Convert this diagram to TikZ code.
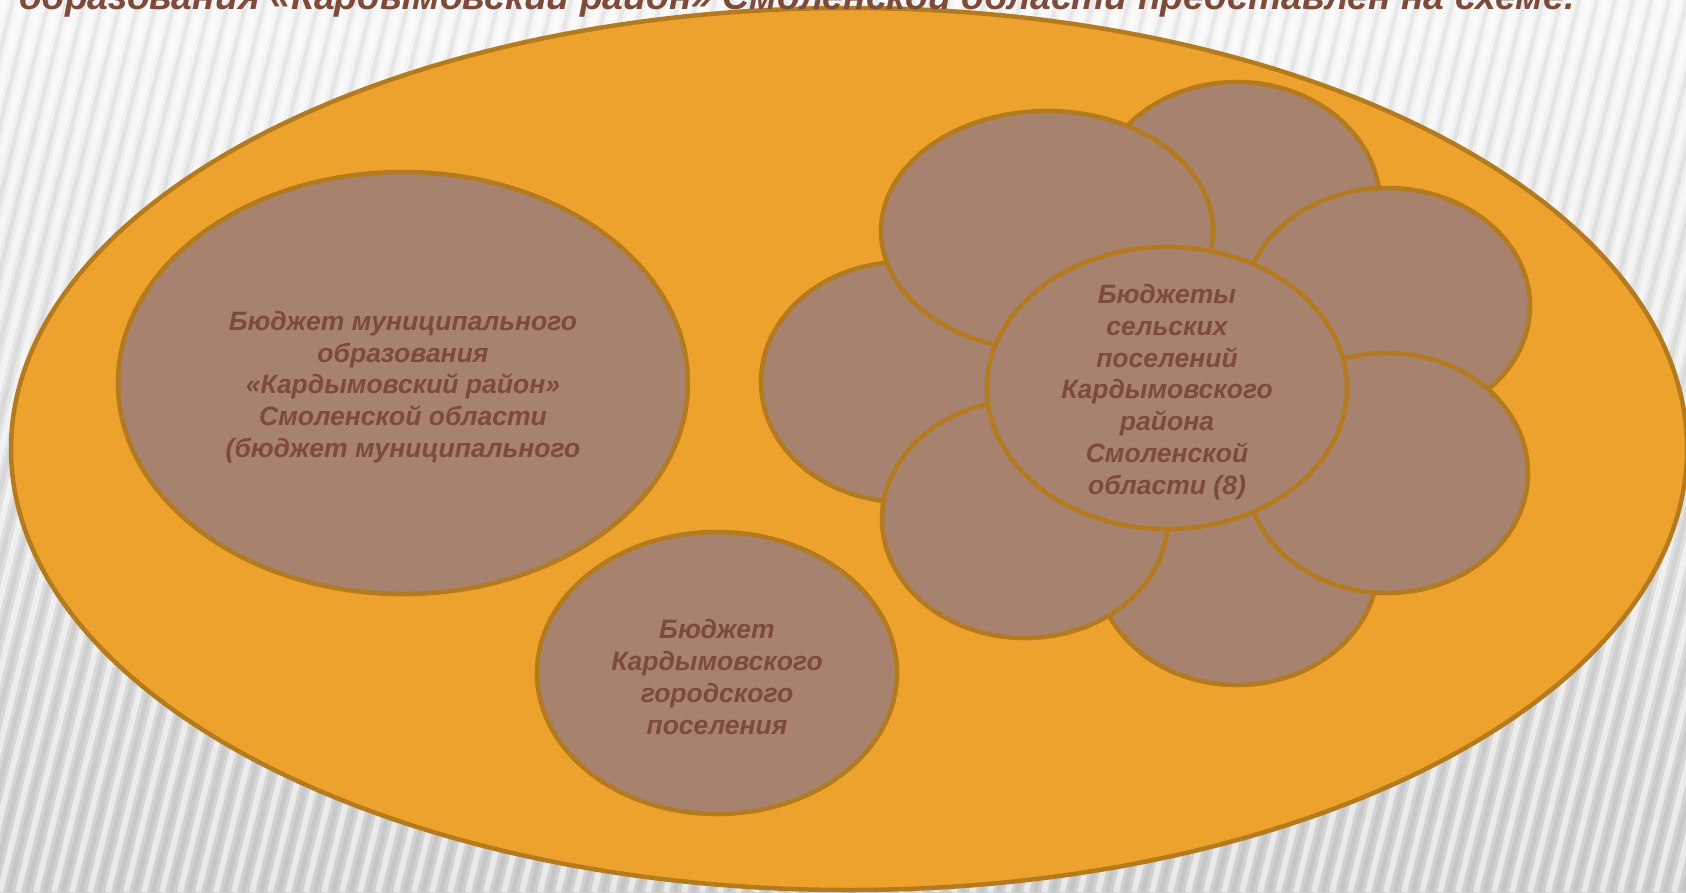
\documentclass[tikz,border=0pt]{standalone}
\usepackage{fontspec}
\setmainfont{Liberation Sans}
\usetikzlibrary{shapes.geometric}
\definecolor{bigfill}{HTML}{EEA22E}
\definecolor{petalfill}{HTML}{A6826F}
\definecolor{rim}{HTML}{B47A1E}
\definecolor{ink}{HTML}{7E4A3A}
\definecolor{bgtop}{HTML}{F6F6F6}
\definecolor{bgbot}{HTML}{D0D0D0}
\begin{document}
\begin{tikzpicture}[x=1pt,y=1pt,
  oval/.style={ellipse, draw=rim, line width=4.5pt, fill=petalfill, inner sep=0pt},
  txt/.style={text=ink, align=center, inner sep=0pt, font=\fontsize{26.5}{31.8}\selectfont\bfseries\itshape},
  intxt/.style={txt, yshift=-4pt},
  stripe/.style={white, opacity=0.55, line width=6pt},
  shadowstripe/.style={black, opacity=0.05, line width=4.5pt}
]
\path[use as bounding box, clip] (0,0) rectangle (1686,-892);
\shade[top color=bgtop, bottom color=bgbot] (0,0) rectangle (1686,-892);
\foreach \i in {-20,...,100} {
  \draw[stripe] (\i*18,-892) -- ++(220,892);
  \draw[shadowstripe] (\i*18+9,-892) -- ++(220,892);
}

\node[oval, fill=bigfill, minimum width=1676, minimum height=882] (big) at (849,-449) {};

\node[oval, minimum width=570, minimum height=422,
  label={[intxt, name=munitxt]center:{Бюджет муниципального\\образования\\«Кардымовский район»\\Смоленской области\\(бюджет муниципального}}] (muni) at (403,-383) {};

\node[oval, minimum width=360, minimum height=282,
  label={[intxt, name=citytxt]center:{Бюджет\\Кардымовского\\городского\\поселения}}] (city) at (717,-673) {};

% petals of the flower, back to front
\node[oval, minimum width=286, minimum height=244] (pb) at (1237,-204) {};
\node[oval, minimum width=282, minimum height=240] (pe) at (1237,-565) {};
\node[oval, minimum width=286, minimum height=236] (pc) at (1387,-306) {};
\node[oval, minimum width=282, minimum height=240] (pd) at (1387,-473) {};
\node[oval, minimum width=284, minimum height=240] (pg) at (903,-382) {};
\node[oval, minimum width=286, minimum height=238] (pf) at (1025,-519) {};
\node[oval, minimum width=332, minimum height=240] (pa) at (1047,-231) {};

\node[oval, minimum width=360, minimum height=282,
  label={[intxt, name=ruraltxt]center:{Бюджеты\\сельских\\поселений\\Кардымовского\\района\\Смоленской\\области (8)}}] (rural) at (1167,-388) {};

\node[txt, font=\fontsize{37.3}{42}\selectfont\bfseries\itshape, anchor=base west] (title) at (19,-9) {образования «Кардымовский район» Смоленской области представлен на схеме.};
\end{tikzpicture}
\end{document}
